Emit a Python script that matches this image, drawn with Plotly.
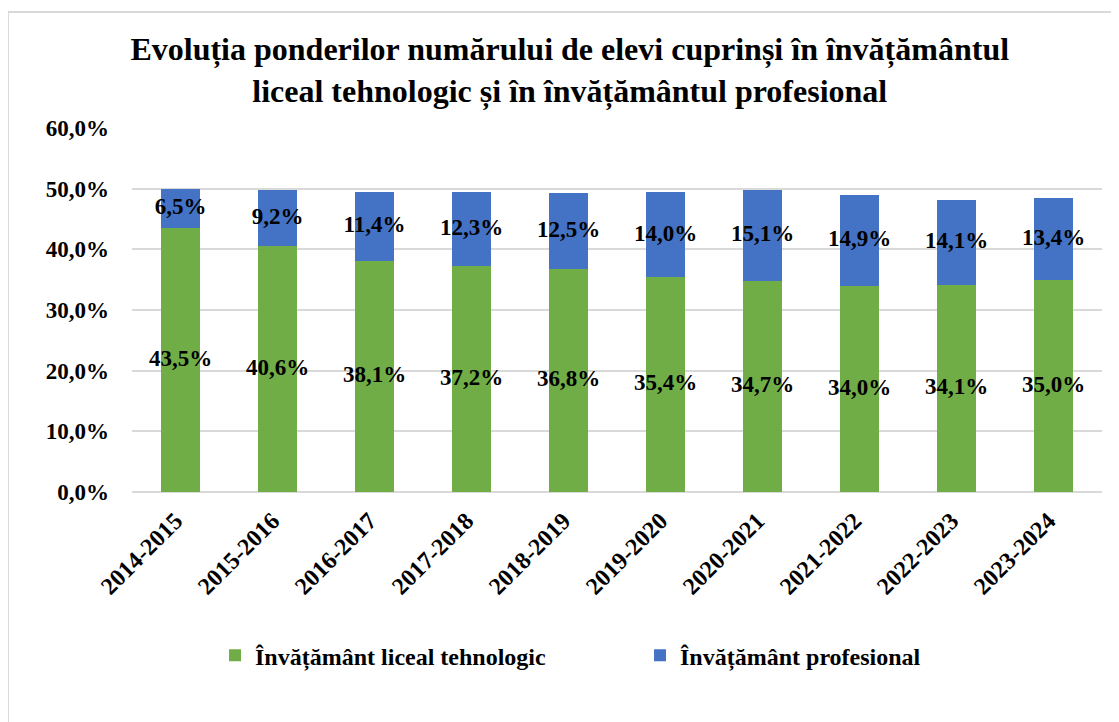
import plotly.graph_objects as go

categories = ["2014-2015", "2015-2016", "2016-2017", "2017-2018", "2018-2019",
              "2019-2020", "2020-2021", "2021-2022", "2022-2023", "2023-2024"]
liceal_tehnologic = [43.5, 40.6, 38.1, 37.2, 36.8, 35.4, 34.7, 34.0, 34.1, 35.0]
profesional = [6.5, 9.2, 11.4, 12.3, 12.5, 14.0, 15.1, 14.9, 14.1, 13.4]
series_names = ["Învățământ liceal tehnologic", "Învățământ profesional"]
y_ticks = [0, 10, 20, 30, 40, 50, 60]

FONT = "Liberation Serif, Times New Roman, serif"
GREEN = "#70AD47"
BLUE = "#4472C4"


def fmt(v):
    return f"{v:.1f}".replace(".", ",") + "%"


fig = go.Figure()
fig.add_trace(go.Bar(x=categories, y=liceal_tehnologic, name=series_names[0],
                     marker=dict(color=GREEN, line=dict(width=0)), textposition="none"))
fig.add_trace(go.Bar(x=categories, y=profesional, name=series_names[1],
                     marker=dict(color=BLUE, line=dict(width=0)), textposition="none"))

label_font = dict(family=FONT, size=23, color="black", weight="bold")
# data labels centered in each segment
fig.add_trace(go.Scatter(x=categories, y=[v / 2 for v in liceal_tehnologic],
                         mode="text", text=[fmt(v) for v in liceal_tehnologic],
                         textfont=label_font, showlegend=False, hoverinfo="skip"))
fig.add_trace(go.Scatter(x=categories,
                         y=[a + b / 2 for a, b in zip(liceal_tehnologic, profesional)],
                         mode="text", text=[fmt(v) for v in profesional],
                         textfont=label_font, showlegend=False, hoverinfo="skip"))

fig.update_layout(
    barmode="stack",
    bargap=0.6,
    width=1119, height=722,
    paper_bgcolor="white", plot_bgcolor="white",
    margin=dict(l=124, r=25, t=120, b=238, autoexpand=False),
    font=dict(family=FONT, color="black"),
    title=dict(
        text="<b>Evoluția ponderilor numărului de elevi cuprinși în învățământul<br>liceal tehnologic și în învățământul profesional</b>",
        x=0.502, xanchor="center", xref="container",
        y=0.928, yanchor="top", yref="container",
        font=dict(family=FONT, size=32, color="black"),
    ),
    legend=dict(
        orientation="h", x=0.0856, xanchor="left", y=-0.388, yanchor="top",
        font=dict(family=FONT, size=24, color="black", weight="bold"),
        itemwidth=30, traceorder="normal", entrywidth=380,
    ),
    shapes=[dict(type="rect", xref="paper", yref="paper",
                 x0=(0 - 124) / 970, y0=-1.0, x1=1.2, y1=(484 - 4) / 364,
                 line=dict(color="#D9D9D9", width=2), fillcolor="rgba(0,0,0,0)",
                 layer="below")],
)

fig.update_xaxes(
    tickangle=-45,
    tickfont=dict(family=FONT, size=24, color="black", weight="bold"),
    showgrid=False, showline=False, ticks="",
    ticklabelstandoff=9, ticklabelshift=-5,
)
fig.update_yaxes(
    range=[0, 60],
    tickvals=y_ticks,
    ticktext=[fmt(v) for v in y_ticks],
    tickfont=dict(family=FONT, size=23, color="black", weight="bold"),
    showgrid=True, gridcolor="#D9D9D9", gridwidth=1.5,
    zeroline=True, zerolinecolor="#D9D9D9", zerolinewidth=1.5,
    ticks="", ticklabelstandoff=22,
)

fig.write_html("out.html")
